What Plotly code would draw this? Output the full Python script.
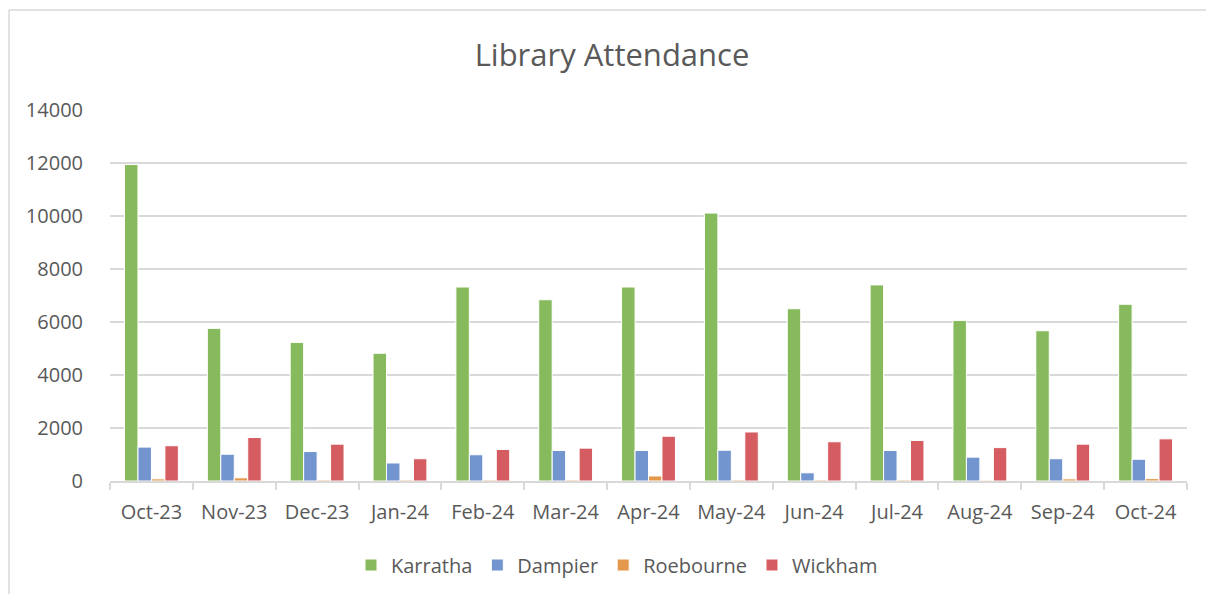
import plotly.graph_objects as go

months = ["Oct-23", "Nov-23", "Dec-23", "Jan-24", "Feb-24", "Mar-24", "Apr-24",
          "May-24", "Jun-24", "Jul-24", "Aug-24", "Sep-24", "Oct-24"]
karratha = [11940, 5760, 5230, 4820, 7320, 6840, 7320, 10110, 6500, 7400, 6060, 5670, 6670]
dampier = [1280, 1010, 1110, 680, 990, 1150, 1150, 1160, 310, 1150, 900, 840, 820]
roebourne = [80, 120, 40, 40, 40, 40, 190, 40, 40, 40, 30, 80, 90]
wickham = [1330, 1640, 1390, 840, 1190, 1240, 1690, 1850, 1480, 1530, 1260, 1390, 1590]

series = [
    ("Karratha", karratha, "#86BA5C"),
    ("Dampier", dampier, "#7295CF"),
    ("Roebourne", roebourne, "#E3984B"),
    ("Wickham", wickham, "#D55C60"),
]

FONT = "Open Sans"
TXT = "#595959"

fig = go.Figure()
for name, vals, col in series:
    fig.add_trace(go.Bar(
        x=months, y=vals, name=name,
        marker=dict(color=col, line=dict(color="white", width=1)),
    ))

# page body has an 8px margin; compensate so screen positions match
OFF = 8
W, H = 1214, 594
# target screen coords of plot area
SL, SR, ST, SB = 110, 1187, 110, 481
L = SL - OFF
T = ST - OFF
R = W - (SR - OFF)
B = H - (SB - OFF)
pw = W - L - R
ph = H - T - B


def px(sx):
    return (sx - OFF - L) / pw


def py(sy):
    return (H - B - (sy - OFF)) / ph


border = dict(color="#D9D9D9", width=1.5)

fig.update_layout(
    width=W, height=H,
    margin=dict(l=L, r=R, t=T, b=B),
    paper_bgcolor="white", plot_bgcolor="white",
    barmode="group", bargap=0.35, bargroupgap=0.0,
    font=dict(family=FONT, color=TXT, size=20),
    title=dict(text="Library Attendance", x=(612 - OFF) / W, xanchor="center",
               y=1 - (55 - OFF) / H, yanchor="middle",
               font=dict(family=FONT, size=31, color=TXT)),
    legend=dict(orientation="h", x=px(617), xanchor="center",
                y=py(565), yanchor="middle",
                font=dict(family=FONT, size=20, color=TXT),
                itemwidth=30, traceorder="normal"),
    xaxis=dict(showline=True, linecolor="#D9D9D9", linewidth=2,
               ticks="outside", tickson="boundaries", ticklen=7,
               tickcolor="#D9D9D9", tickwidth=2, ticklabelstandoff=12,
               tickfont=dict(family=FONT, size=20, color=TXT),
               showgrid=False),
    yaxis=dict(range=[0, 14000], dtick=2000, tickformat="d", showgrid=True,
               gridcolor="#D9D9D9", gridwidth=2, zeroline=False,
               showline=False, ticks="", ticksuffix="     ",
               tickfont=dict(family=FONT, size=20, color=TXT)),
    shapes=[
        dict(type="line", xref="paper", yref="paper",
             x0=px(9), x1=px(W + 20), y0=py(10), y1=py(10),
             line=border, layer="below"),
        dict(type="line", xref="paper", yref="paper",
             x0=px(9), x1=px(9), y0=py(10), y1=py(H + 20),
             line=border, layer="below"),
    ],
)

fig.write_html("out.html", config={"displayModeBar": False})
